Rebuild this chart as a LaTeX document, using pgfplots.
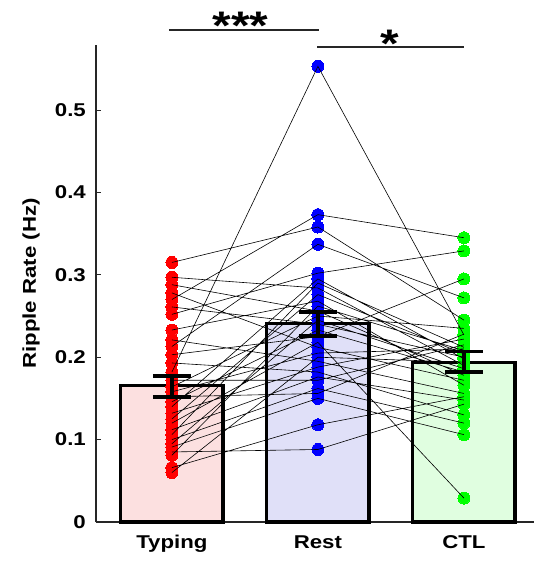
\documentclass[border=0pt]{standalone}
\usepackage{fontspec}
\setmainfont{Liberation Sans}[FakeStretch=1.2]
\usepackage{pgfplots}
\pgfplotsset{compat=1.18}
\usepackage{pgfplotstable}
\definecolor{tfill}{RGB}{252,224,224}
\definecolor{rfill}{RGB}{224,224,248}
\definecolor{cfill}{RGB}{224,254,224}
\definecolor{axgray}{RGB}{38,38,38}
\definecolor{pr}{RGB}{255,0,0}
\definecolor{pb}{RGB}{0,0,255}
\definecolor{pg}{RGB}{0,255,0}

% long format: condition (1 Typing, 2 Rest, 3 CTL), ripple rate; nan separates subjects
\pgfplotstableread{
x y
1 0.182
2 0.553
3 0.227
nan nan
1 0.270
2 0.373
3 0.345
nan nan
1 0.315
2 0.358
3 0.245
nan nan
1 0.213
2 0.337
3 0.272
nan nan
1 0.252
2 0.302
3 0.329
nan nan
1 0.140
2 0.295
3 0.198
nan nan
1 0.106
2 0.290
3 0.212
nan nan
1 0.297
2 0.284
3 0.190
nan nan
1 0.125
2 0.276
3 0.204
nan nan
1 0.233
2 0.268
3 0.166
nan nan
1 0.081
2 0.262
3 0.208
nan nan
1 0.288
2 0.256
3 0.178
nan nan
1 0.164
2 0.250
3 0.235
nan nan
1 0.095
2 0.245
3 0.186
nan nan
1 0.261
2 0.240
3 0.200
nan nan
1 0.146
2 0.233
3 0.182
nan nan
1 0.203
2 0.225
3 0.295
nan nan
1 0.120
2 0.218
3 0.029
nan nan
1 0.278
2 0.212
3 0.172
nan nan
1 0.158
2 0.205
3 0.210
nan nan
1 0.060
2 0.200
3 0.194
nan nan
1 0.221
2 0.195
3 0.156
nan nan
1 0.132
2 0.188
3 0.222
nan nan
1 0.193
2 0.182
3 0.130
nan nan
1 0.112
2 0.176
3 0.148
nan nan
1 0.172
2 0.172
3 0.215
nan nan
1 0.100
2 0.162
3 0.120
nan nan
1 0.152
2 0.156
3 0.228
nan nan
1 0.091
2 0.150
3 0.106
nan nan
1 0.066
2 0.118
3 0.152
nan nan
1 0.085
2 0.088
3 0.143
}\subjects

\begin{document}
\begin{tikzpicture}
\begin{axis}[
  scale only axis,
  width=438bp, height=477bp,
  xmin=0.48, xmax=3.48,
  ymin=0, ymax=0.5789,
  clip=false,
  clip marker paths=true,
  axis lines*=left,
  axis line style={axgray, line width=1.1bp},
  unbounded coords=jump,
  font=\fontsize{18.6}{22}\selectfont\bfseries,
  xtick={1,2,3},
  xticklabels={Typing,Rest,CTL},
  x tick style={draw=none},
  xticklabel style={inner sep=0pt, text height=13.3bp, text depth=4bp, yshift=-13bp},
  ytick={0,0.1,0.2,0.3,0.4,0.5},
  yticklabels={0,0.1,0.2,0.3,0.4,0.5},
  tick align=inside,
  y tick style={axgray, line width=1bp},
  major tick length=5bp,
  yticklabel style={inner sep=0pt, xshift=-10bp},
  ylabel={Ripple Rate (Hz)},
  ylabel style={at={(axis description cs:-0.1484,0.5)}, anchor=center, inner sep=0pt},
]
% bars (means)
\addplot[ybar, bar shift=0pt, bar width=0.7, fill=tfill, draw=black, line width=3.3bp] coordinates {(1,0.1655)};
\addplot[ybar, bar shift=0pt, bar width=0.7, fill=rfill, draw=black, line width=3.3bp] coordinates {(2,0.2405)};
\addplot[ybar, bar shift=0pt, bar width=0.7, fill=cfill, draw=black, line width=3.3bp] coordinates {(3,0.1935)};
% subject points
\addplot[only marks, mark=*, mark size=6bp, mark options={fill=pr, draw=pr, line width=0pt}, restrict x to domain=0.9:1.1] table {\subjects};
\addplot[only marks, mark=*, mark size=6bp, mark options={fill=pb, draw=pb, line width=0pt}, restrict x to domain=1.9:2.1] table {\subjects};
\addplot[only marks, mark=*, mark size=6bp, mark options={fill=pg, draw=pg, line width=0pt}, restrict x to domain=2.9:3.1] table {\subjects};
% paired lines
\addplot[black, line width=0.6bp, mark=none] table {\subjects};
% error bars (mean +- SEM): stems
\addplot[draw=black, line width=3.8bp, mark=none, line cap=butt] coordinates {(1,0.152) (1,0.177)};
\addplot[draw=black, line width=3.8bp, mark=none, line cap=butt] coordinates {(2,0.226) (2,0.255)};
\addplot[draw=black, line width=3.8bp, mark=none, line cap=butt] coordinates {(3,0.182) (3,0.207)};
% error bars: caps
\addplot[draw=black, line width=3.6bp, mark=none] coordinates {(0.87,0.152) (1.13,0.152)};
\addplot[draw=black, line width=3.6bp, mark=none] coordinates {(0.87,0.177) (1.13,0.177)};
\addplot[draw=black, line width=3.6bp, mark=none] coordinates {(1.87,0.226) (2.13,0.226)};
\addplot[draw=black, line width=3.6bp, mark=none] coordinates {(1.87,0.255) (2.13,0.255)};
\addplot[draw=black, line width=3.6bp, mark=none] coordinates {(2.87,0.182) (3.13,0.182)};
\addplot[draw=black, line width=3.6bp, mark=none] coordinates {(2.87,0.207) (3.13,0.207)};
% significance annotations
\draw[axgray, line width=1.6bp] (axis cs:0.98,0.597) -- (axis cs:2.005,0.597);
\draw[axgray, line width=1.6bp] (axis cs:1.995,0.5765) -- (axis cs:3.0,0.5765);
\node[anchor=base, inner sep=0pt, font=\fontsize{40}{40}\selectfont\bfseries] at (axis cs:1.47,0.585) {***};
\node[anchor=base, inner sep=0pt, font=\fontsize{40}{40}\selectfont\bfseries] at (axis cs:2.49,0.5635) {*};
\end{axis}
\pgfresetboundingbox
\path[use as bounding box] (-96bp,-39bp) rectangle (441bp,522bp);
\end{tikzpicture}
\end{document}
